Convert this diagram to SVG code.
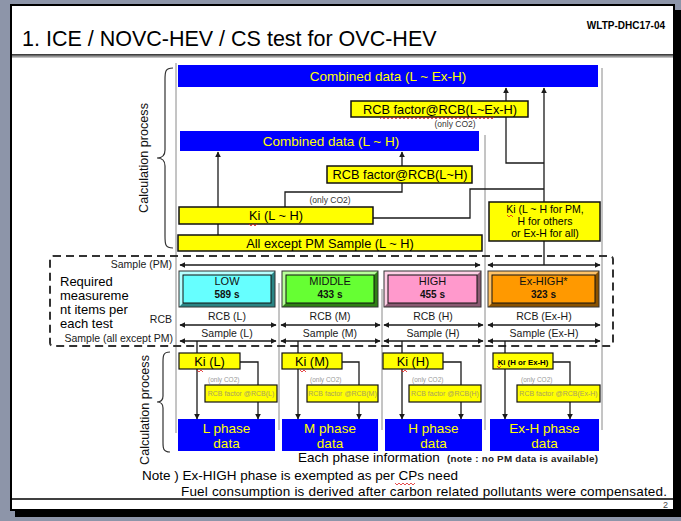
<svg xmlns="http://www.w3.org/2000/svg" width="681" height="521" viewBox="0 0 681 521">
<defs>
<marker id="ah" viewBox="0 0 10 10" refX="9" refY="5" markerWidth="6" markerHeight="6" orient="auto-start-reverse" markerUnits="userSpaceOnUse">
<path d="M0,0 L10,5 L0,10 z" fill="#1a1a1a"/>
</marker>
<linearGradient id="sep" x1="0" y1="0" x2="0" y2="1"><stop offset="0" stop-color="#2a2a2a"/><stop offset="1" stop-color="#d8d8d8"/></linearGradient>
</defs>
<style>
text{font-family:"Liberation Sans",Arial,sans-serif}
.c{stroke:#1a1a1a;stroke-width:1.3;fill:none}
.a{marker-end:url(#ah)}
.d{marker-start:url(#ah);marker-end:url(#ah)}
.blue{fill:#0000ff}
.yl{fill:#ffff00;stroke:#111;stroke-width:1.5}
.yls{fill:#ffff00;stroke:#111;stroke-width:1.2}
.yt{fill:#ffff00;text-anchor:middle;font-size:13.5px}
.bt{fill:#000;text-anchor:middle;font-size:12.8px}
.div{stroke:#8a8a8a;stroke-width:1}
.lbl{font-size:10.5px;fill:#1a1a1a}
.mid{text-anchor:middle}
.end{text-anchor:end}
.co2{font-size:8.5px;fill:#333;text-anchor:middle}
.co2s{font-size:6.5px;fill:#9a9a9a}
.rcbs{font-size:7px;fill:#a8a060;text-anchor:middle}
.ph1{font-size:11px;fill:#111;text-anchor:middle}
.ph2{font-size:10px;fill:#111;text-anchor:middle;font-weight:bold}
.inner{stroke:#111;stroke-width:1}
.outer{fill:none;stroke:#333;stroke-width:1}
.sq{fill:none;stroke:#e02020;stroke-width:0.8}
</style>
<rect width="681" height="521" fill="#8d95a9"/>
<rect x="15" y="10" width="666" height="507" fill="#000"/>
<rect x="11" y="5" width="663" height="505" fill="#fff" stroke="#000" stroke-width="2"/>
<rect x="12" y="54" width="661" height="4" fill="url(#sep)"/>
<line x1="12" y1="499" x2="673" y2="499" stroke="#000" stroke-width="1.5"/>
<text x="668" y="508" font-size="9" fill="#444" text-anchor="end">2</text>
<text x="22" y="46" font-size="21.5" fill="#000">1. ICE / NOVC-HEV / CS test for OVC-HEV</text>
<text x="665" y="29" font-size="10" font-weight="bold" text-anchor="end" fill="#000">WLTP-DHC17-04</text>

<g id="dividers">
<line class="div" x1="176" y1="63" x2="176" y2="433"/>
<line class="div" x1="485" y1="135" x2="485" y2="430"/>
<line class="div" x1="602" y1="68" x2="602" y2="430"/>
<line class="div" x1="279" y1="283" x2="279" y2="430"/>
<line class="div" x1="382" y1="289" x2="382" y2="430"/>
</g>

<g id="braces" fill="none" stroke="#333" stroke-width="1.2">
<path d="M173,68 C165,68 165,72 165,80 L165,150 C165,156 162,158 157,158 C162,158 165,160 165,166 L165,236 C165,244 165,248 173,248"/>
<path d="M170,352 C163,352 163,356 163,362 L163,396 C163,400 161,402 157,402 C161,402 163,404 163,408 L163,442 C163,448 163,452 170,452"/>
</g>
<text transform="translate(148,158) rotate(-90)" font-size="12.6" text-anchor="middle" fill="#111">Calculation process</text>
<text transform="translate(149,410) rotate(-90)" font-size="12.6" text-anchor="middle" fill="#111">Calculation process</text>

<rect x="50" y="256" width="563" height="90" rx="3" fill="none" stroke="#333" stroke-width="2" stroke-dasharray="8 5"/>

<g id="connectors">
<line class="c" x1="218" y1="235" x2="218" y2="224"/>
<line class="c a" x1="218" y1="207" x2="218" y2="152"/>
<polyline class="c" points="285,207 285,192 402,192 402,183"/>
<line class="c a" x1="402" y1="166" x2="402" y2="152"/>
<polyline class="c" points="373,218 470,218 470,189 544,189"/>
<line class="c a" x1="544" y1="265" x2="544" y2="88"/>
<polyline class="c a" points="544,163 506,163 506,88"/>
<line class="c d" x1="180" y1="265" x2="480" y2="265"/>
<line class="c d" x1="488" y1="265" x2="600" y2="265"/>
<line class="c d" x1="180" y1="325" x2="276" y2="325"/>
<line class="c d" x1="281" y1="325" x2="380" y2="325"/>
<line class="c d" x1="384" y1="325" x2="483" y2="325"/>
<line class="c d" x1="488" y1="325" x2="600" y2="325"/>
<line class="c d" x1="180" y1="341" x2="276" y2="341"/>
<line class="c d" x1="281" y1="341" x2="380" y2="341"/>
<line class="c d" x1="384" y1="341" x2="483" y2="341"/>
<line class="c d" x1="488" y1="341" x2="600" y2="341"/>
<line class="c a" x1="197" y1="341" x2="197" y2="419"/>
<line class="c a" x1="298" y1="341" x2="298" y2="419"/>
<line class="c a" x1="402" y1="341" x2="402" y2="419"/>
<line class="c a" x1="505" y1="341" x2="505" y2="419"/>
<polyline class="c a" points="240,362 258,362 258,419"/>
<polyline class="c a" points="342,362 359,362 359,419"/>
<polyline class="c a" points="443,362 461,362 461,419"/>
<polyline class="c a" points="553,362 570,362 570,419"/>
</g>

<g id="combined-all"><rect class="blue" x="178" y="65" width="420" height="22"/><text class="yt" x="388" y="81">Combined data (L ~ Ex-H)</text></g>
<g id="rcb-all"><rect class="yl" x="351" y="101" width="177" height="16"/><text class="bt" x="440" y="113.5">RCB factor@RCB(L~Ex-H)</text></g>
<text class="co2" x="455" y="127">(only CO2)</text>
<g id="combined-lh"><rect class="blue" x="180" y="131" width="299" height="20"/><text class="yt" x="331" y="146">Combined data (L ~ H)</text></g>
<g id="rcb-lh"><rect class="yl" x="327" y="166" width="145" height="17"/><text class="bt" x="400" y="179">RCB factor@RCB(L~H)</text></g>
<text class="co2" x="330" y="203">(only CO2)</text>
<g id="ki-lh"><rect class="yl" x="179" y="207" width="194" height="17"/><text class="bt" x="276" y="220">Ki (L ~ H)</text></g>
<g id="all-except"><rect class="yl" x="178" y="235" width="304" height="16"/><text class="bt" x="330" y="248">All except PM Sample (L ~ H)</text></g>
<g id="ki-exh"><rect class="yl" x="489" y="202" width="111" height="39"/>
<text x="545" y="213" font-size="10.5" text-anchor="middle">Ki (L ~ H for PM,</text>
<text x="545" y="225" font-size="10.5" text-anchor="middle">H for others</text>
<text x="545" y="237" font-size="10.5" text-anchor="middle">or Ex-H for all)</text></g>

<text class="lbl end" x="172" y="268">Sample (PM)</text>
<text class="lbl end" x="172" y="323">RCB</text>
<text class="lbl end" x="173" y="342">Sample (all except PM)</text>
<g font-size="13" fill="#000">
<text x="60" y="286">Required</text>
<text x="60" y="300">measureme</text>
<text x="60" y="314">nt items per</text>
<text x="60" y="328">each test</text>
</g>

<g id="low"><rect x="179" y="271" width="96" height="36" fill="#2a8585"/><polygon points="179,271 275,271 271,275 183,275 183,303 179,307" fill="#b5ffff"/><rect class="inner" x="183" y="275" width="88" height="28" fill="#66ffff"/><rect class="outer" x="179" y="271" width="96" height="36"/><text class="ph1" x="227" y="285">LOW</text><text class="ph2" x="227" y="298">589 s</text></g>
<g id="middle"><rect x="282" y="271" width="96" height="36" fill="#2f7f14"/><polygon points="282,271 378,271 374,275 286,275 286,303 282,307" fill="#b8ff99"/><rect class="inner" x="286" y="275" width="88" height="28" fill="#66ff33"/><rect class="outer" x="282" y="271" width="96" height="36"/><text class="ph1" x="330" y="285">MIDDLE</text><text class="ph2" x="330" y="298">433 s</text></g>
<g id="high"><rect x="384" y="271" width="97" height="36" fill="#8a5a72"/><polygon points="384,271 481,271 477,275 388,275 388,303 384,307" fill="#ffd0e6"/><rect class="inner" x="388" y="275" width="89" height="28" fill="#ff99cc"/><rect class="outer" x="384" y="271" width="97" height="36"/><text class="ph1" x="432.5" y="285">HIGH</text><text class="ph2" x="432.5" y="298">455 s</text></g>
<g id="exhigh"><rect x="488" y="271" width="111" height="36" fill="#8a5200"/><polygon points="488,271 599,271 595,275 492,275 492,303 488,307" fill="#ffc266"/><rect class="inner" x="492" y="275" width="103" height="28" fill="#ff9900"/><rect class="outer" x="488" y="271" width="111" height="36"/><text class="ph1" x="543.5" y="285">Ex-HIGH*</text><text class="ph2" x="543.5" y="298">323 s</text></g>

<g class="lbl mid">
<text x="227" y="320">RCB (L)</text><text x="330" y="320">RCB (M)</text><text x="433" y="320">RCB (H)</text><text x="544" y="320">RCB (Ex-H)</text>
<text x="227" y="337">Sample (L)</text><text x="330" y="337">Sample (M)</text><text x="433" y="337">Sample (H)</text><text x="544" y="337">Sample (Ex-H)</text>
</g>

<g id="ki-l"><rect class="yls" x="179" y="353" width="61" height="16"/><text class="bt" x="209.5" y="366">Ki (L)</text></g>
<g id="ki-m"><rect class="yls" x="282" y="353" width="60" height="16"/><text class="bt" x="312" y="366">Ki (M)</text></g>
<g id="ki-h"><rect class="yls" x="383" y="353" width="60" height="16"/><text class="bt" x="413" y="366">Ki (H)</text></g>
<g id="ki-exh2"><rect class="yls" x="493" y="353" width="60" height="16"/><text x="523" y="364.5" font-size="7.8" font-weight="bold" text-anchor="middle">Ki (H or Ex-H)</text></g>

<text class="co2s" x="208" y="382">(only CO2)</text>
<text class="co2s" x="310" y="382">(only CO2)</text>
<text class="co2s" x="412" y="382">(only CO2)</text>
<text class="co2s" x="521" y="382">(only CO2)</text>
<g id="rcb-l"><rect class="yls" x="205" y="385" width="72" height="17"/><text class="rcbs" x="241" y="396">RCB factor @RCB(L)</text></g>
<g id="rcb-m"><rect class="yls" x="307" y="385" width="71" height="17"/><text class="rcbs" x="342.5" y="396">RCB factor @RCB(M)</text></g>
<g id="rcb-h"><rect class="yls" x="409" y="385" width="72" height="17"/><text class="rcbs" x="445" y="396">RCB factor @RCB(H)</text></g>
<g id="rcb-exh"><rect class="yls" x="517" y="385" width="83" height="17"/><text class="rcbs" x="558.5" y="396">RCB factor @RCB(Ex-H)</text></g>

<g id="phase-l"><rect class="blue" x="178" y="419" width="97" height="32"/><text class="yt" x="226.5" y="433">L phase</text><text class="yt" x="226.5" y="448">data</text></g>
<g id="phase-m"><rect class="blue" x="282" y="419" width="96" height="32"/><text class="yt" x="330" y="433">M phase</text><text class="yt" x="330" y="448">data</text></g>
<g id="phase-h"><rect class="blue" x="385" y="419" width="97" height="32"/><text class="yt" x="433.5" y="433">H phase</text><text class="yt" x="433.5" y="448">data</text></g>
<g id="phase-exh"><rect class="blue" x="490" y="419" width="109" height="32"/><text class="yt" x="544.5" y="433">Ex-H phase</text><text class="yt" x="544.5" y="448">data</text></g>

<text x="298" y="462" font-size="13.5" fill="#000">Each phase information</text>
<text x="447" y="462" font-size="9.8" font-weight="bold" fill="#222" textLength="151">(note : no PM data is available)</text>
<text x="142" y="480" font-size="13.5" fill="#000">Note ) Ex-HIGH phase is exempted as per CPs need</text>
<text x="181" y="496" font-size="13.5" fill="#000" textLength="486">Fuel consumption is derived after carbon related pollutants were compensated.</text>

<g id="spellmarks">
<path class="sq" d="M380,119 l2,-2 l2,2 l2,-2 l2,2 l2,-2 l2,2 l2,-2 l2,2 l2,-2 l2,2 l2,-2 l2,2 l2,-2 l2,2 l2,-2 l2,2 l2,-2 l2,2 l2,-2 l2,2 l2,-2 l2,2 l2,-2 l2,2 l2,-2 l2,2 l2,-2 l2,2 l2,-2 l2,2 l2,-2 l2,2 l2,-2 l2,2 l2,-2 l2,2 l2,-2 l2,2 l2,-2 l2,2 l2,-2 l2,2 l2,-2 l2,2 l2,-2 l2,2 l2,-2 l2,2 l2,-2 l2,2 l2,-2 l2,2 l2,-2 l2,2 l2,-2 l2,2 l2,-2"/>
<path class="sq" d="M249,224 l2,2 l2,-2 l2,2 l2,-2"/>
<path class="sq" d="M507,215 l2,2 l2,-2 l2,2"/>
<path class="sq" d="M197,370 l2,2 l2,-2 l2,2"/>
<path class="sq" d="M300,370 l2,2 l2,-2 l2,2"/>
<path class="sq" d="M401,370 l2,2 l2,-2 l2,2"/>
<path class="sq" d="M497,366 l2,2 l2,-2"/>
<path class="sq" d="M395,483 l2,2 l2,-2 l2,2 l2,-2 l2,2 l2,-2 l2,2 l2,-2 l2,2 l2,-2"/>
</g>
</svg>
